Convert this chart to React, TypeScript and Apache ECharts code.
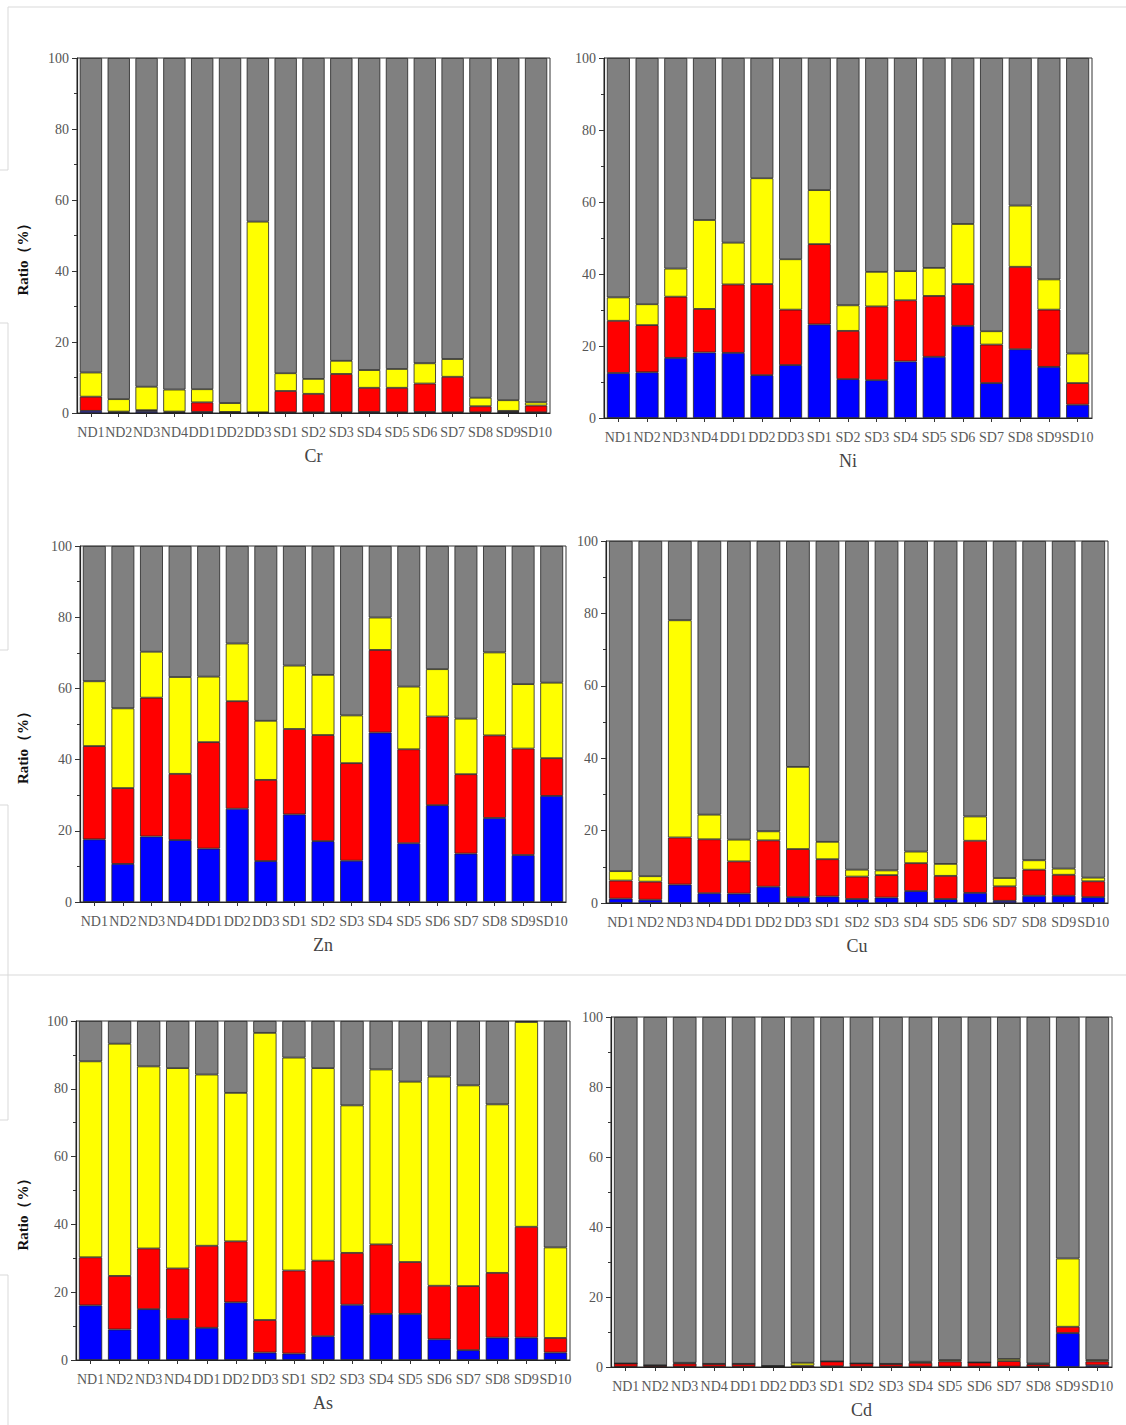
import React, { useEffect, useRef } from 'react';
import * as echarts from 'echarts';

const samples = ['ND1', 'ND2', 'ND3', 'ND4', 'DD1', 'DD2', 'DD3', 'SD1', 'SD2', 'SD3', 'SD4', 'SD5', 'SD6', 'SD7', 'SD8', 'SD9', 'SD10'];
const yTickValues = [0, 20, 40, 60, 80, 100];

// Cr
const crBlue = [0.6, 0.2, 0.5, 0.2, 0.3, 0.2, 0.1, 0.2, 0.2, 0.2, 0.3, 0.2, 0.3, 0.2, 0.2, 0.3, 0.2];
const crRed = [4.0, 0.2, 0.3, 0.2, 2.7, 0.1, 0.1, 6.0, 5.2, 10.8, 6.8, 6.9, 8.0, 10.0, 1.7, 0.3, 1.9];
const crYellow = [6.8, 3.5, 6.6, 6.2, 3.7, 2.5, 53.7, 5.0, 4.2, 3.7, 5.0, 5.3, 5.7, 5.0, 2.4, 3.0, 0.9];
const crGray = [88.6, 96.1, 92.6, 93.4, 93.3, 97.2, 46.1, 88.8, 90.4, 85.3, 87.9, 87.6, 86.0, 84.8, 95.7, 96.4, 97.0];

// Ni
const niBlue = [12.5, 12.7, 16.7, 18.2, 18.1, 11.9, 14.7, 26.0, 10.8, 10.5, 15.7, 17.0, 25.6, 9.7, 19.1, 14.2, 3.7];
const niRed = [14.5, 13.1, 17.0, 12.1, 19.0, 25.3, 15.4, 22.3, 13.4, 20.5, 17.0, 16.9, 11.6, 10.7, 22.9, 15.9, 6.0];
const niYellow = [6.5, 5.8, 7.8, 24.7, 11.6, 29.4, 14.0, 15.0, 7.1, 9.6, 8.1, 7.8, 16.7, 3.7, 17.0, 8.4, 8.2];
const niGray = [66.5, 68.4, 58.5, 45.0, 51.3, 33.4, 55.9, 36.7, 68.7, 59.4, 59.2, 58.3, 46.1, 75.9, 41.0, 61.5, 82.1];

// Zn
const znBlue = [17.6, 10.7, 18.4, 17.4, 15.0, 26.2, 11.5, 24.6, 17.1, 11.6, 47.6, 16.5, 27.2, 13.6, 23.6, 13.2, 29.8];
const znRed = [26.2, 21.3, 39.0, 18.6, 29.9, 30.2, 22.8, 24.0, 29.8, 27.4, 23.2, 26.4, 24.9, 22.3, 23.2, 29.9, 10.6];
const znYellow = [18.2, 22.4, 12.9, 27.2, 18.4, 16.2, 16.6, 17.8, 16.9, 13.4, 9.1, 17.6, 13.3, 15.6, 23.3, 18.1, 21.2];
const znGray = [38.0, 45.6, 29.7, 36.8, 36.7, 27.4, 49.1, 33.6, 36.2, 47.6, 20.1, 39.5, 34.6, 48.5, 29.9, 38.8, 38.4];

// Cu
const cuBlue = [1.2, 0.9, 5.1, 2.7, 2.6, 4.5, 1.6, 1.8, 1.1, 1.5, 3.3, 1.1, 2.8, 0.6, 2.0, 2.0, 1.6];
const cuRed = [5.0, 5.0, 13.0, 14.9, 8.9, 12.8, 13.3, 10.3, 6.2, 6.2, 7.7, 6.4, 14.4, 4.0, 7.2, 5.8, 4.4];
const cuYellow = [2.6, 1.5, 60.0, 6.8, 6.0, 2.5, 22.7, 4.8, 1.9, 1.3, 3.2, 3.3, 6.7, 2.3, 2.6, 1.7, 1.0];
const cuGray = [91.2, 92.6, 21.9, 75.6, 82.5, 80.2, 62.4, 83.1, 90.8, 91.0, 85.8, 89.2, 76.1, 93.1, 88.2, 90.5, 93.0];

// As
const asBlue = [16.1, 9.0, 15.0, 12.1, 9.5, 17.0, 2.2, 1.9, 7.0, 16.3, 13.6, 13.6, 6.1, 2.9, 6.6, 6.6, 2.2];
const asRed = [14.2, 15.8, 17.9, 14.9, 24.2, 18.0, 9.6, 24.5, 22.3, 15.3, 20.5, 15.3, 15.8, 18.9, 19.1, 32.7, 4.3];
const asYellow = [57.8, 68.5, 53.7, 59.1, 50.5, 43.8, 84.7, 62.8, 56.8, 43.5, 51.6, 53.2, 61.7, 59.2, 49.7, 60.4, 26.7];
const asGray = [11.9, 6.7, 13.4, 13.9, 15.8, 21.2, 3.5, 10.8, 13.9, 24.9, 14.3, 17.9, 16.4, 19.0, 24.6, 0.3, 66.8];

// Cd
const cdBlue = [0.1, 0.1, 0.1, 0.1, 0.1, 0.1, 0.1, 0.2, 0.1, 0.1, 0.1, 0.1, 0.1, 0.1, 0.1, 9.7, 0.5];
const cdRed = [0.9, 0.4, 0.9, 0.8, 0.8, 0.2, 0.3, 1.4, 0.9, 0.8, 1.1, 1.5, 1.2, 1.6, 0.7, 1.8, 1.1];
const cdYellow = [0, 0, 0.2, 0, 0, 0, 0.8, 0, 0, 0, 0.3, 0.4, 0, 0.6, 0.2, 19.5, 0.4];
const cdGray = [99.0, 99.5, 98.8, 99.1, 99.1, 99.7, 98.8, 98.4, 99.0, 99.1, 98.5, 98.0, 98.7, 97.7, 99.0, 69.0, 98.0];

const metals = [
  { name: 'Cr', layers: [crBlue, crRed, crYellow, crGray] },
  { name: 'Ni', layers: [niBlue, niRed, niYellow, niGray] },
  { name: 'Zn', layers: [znBlue, znRed, znYellow, znGray] },
  { name: 'Cu', layers: [cuBlue, cuRed, cuYellow, cuGray] },
  { name: 'As', layers: [asBlue, asRed, asYellow, asGray] },
  { name: 'Cd', layers: [cdBlue, cdRed, cdYellow, cdGray] },
];

// layout (pixels)
const grids = [
  { left: 77, top: 58, width: 473, height: 355, ratio: true },
  { left: 604, top: 58, width: 488, height: 360, ratio: false },
  { left: 80, top: 546, width: 486, height: 356, ratio: true },
  { left: 606, top: 541, width: 502, height: 362, ratio: false },
  { left: 76, top: 1021, width: 494, height: 339, ratio: true },
  { left: 611, top: 1017, width: 501, height: 350, ratio: false },
];
const layerColors = ['#0000ff', '#ff0000', '#ffff00', '#808080'];
const serif = '"Liberation Serif", "DejaVu Serif", serif';

export default function App() {
  const ref = useRef<HTMLDivElement>(null);
  useEffect(() => {
    const chart = echarts.init(ref.current!, undefined, { renderer: 'svg' });
    const series: any[] = [];
    metals.forEach((m, i) => {
      m.layers.forEach((arr, j) => {
        series.push({
          type: 'bar',
          name: m.name + '-' + j,
          xAxisIndex: i,
          yAxisIndex: i,
          stack: 'stack' + i,
          data: arr,
          barCategoryGap: '20%',
          itemStyle: { color: layerColors[j], borderColor: '#222', borderWidth: 0.8 },
          emphasis: { disabled: true },
        });
      });
    });
    const faint = '#d9d9d9';
    const graphic: any[] = [
      { type: 'line', shape: { x1: 8, y1: 7, x2: 1126, y2: 7 }, style: { stroke: faint, lineWidth: 1 } },
      { type: 'line', shape: { x1: 0, y1: 975, x2: 1126, y2: 975 }, style: { stroke: faint, lineWidth: 1 } },
      { type: 'polyline', shape: { points: [[8, 7], [8, 170], [0, 170]] }, style: { stroke: faint, lineWidth: 1, fill: 'none' } },
      { type: 'polyline', shape: { points: [[0, 323], [8, 323], [8, 650], [0, 650]] }, style: { stroke: faint, lineWidth: 1, fill: 'none' } },
      { type: 'polyline', shape: { points: [[0, 805], [8, 805], [8, 1120], [0, 1120]] }, style: { stroke: faint, lineWidth: 1, fill: 'none' } },
      { type: 'polyline', shape: { points: [[0, 1275], [8, 1275], [8, 1425]] }, style: { stroke: faint, lineWidth: 1, fill: 'none' } },
    ];
    grids.forEach((g) => {
      if (g.ratio) {
        graphic.push({
          type: 'text',
          x: 23,
          y: g.top + g.height / 2 + 20,
          rotation: Math.PI / 2,
          style: {
            text: 'Ratio（%）',
            font: 'bold 15px ' + serif,
            fill: '#111',
            textAlign: 'center',
            textVerticalAlign: 'middle',
          },
        });
      }
    });
    const option: any = {
      animation: false,
      backgroundColor: '#ffffff',
      grid: grids.map((g) => ({
        left: g.left,
        top: g.top,
        width: g.width,
        height: g.height,
        show: true,
        borderColor: '#333',
        borderWidth: 1,
        backgroundColor: 'transparent',
        containLabel: false,
      })),
      xAxis: metals.map((m, i) => ({
        type: 'category',
        gridIndex: i,
        data: samples,
        name: m.name,
        nameLocation: 'middle',
        nameGap: 34,
        nameTextStyle: { fontFamily: serif, fontSize: 18, color: '#444' },
        axisLine: { show: true, lineStyle: { color: '#222', width: 1.2 } },
        axisTick: { show: true, alignWithLabel: true, inside: false, length: 4, lineStyle: { color: '#333' } },
        axisLabel: { interval: 0, margin: 12, fontFamily: serif, fontSize: 14, color: '#5a5a5a' },
        splitLine: { show: false },
      })),
      yAxis: metals.map((m, i) => ({
        type: 'value',
        gridIndex: i,
        min: 0,
        max: 100,
        interval: 20,
        axisLine: { show: true, lineStyle: { color: '#222', width: 1.2 } },
        axisTick: { show: true, inside: false, length: 5, lineStyle: { color: '#333' } },
        minorTick: { show: true, splitNumber: 2, length: 3, lineStyle: { color: '#333' } },
        axisLabel: { margin: 8, fontFamily: serif, fontSize: 14, color: '#555', customValues: yTickValues },
        splitLine: { show: false },
        minorSplitLine: { show: false },
      })),
      series,
      graphic,
    };
    chart.setOption(option);
    return () => chart.dispose();
  }, []);
  return (
    <div
      ref={ref}
      style={{ position: 'absolute', left: 0, top: 0, width: 1126, height: 1425, background: '#fff' }}
    />
  );
}
